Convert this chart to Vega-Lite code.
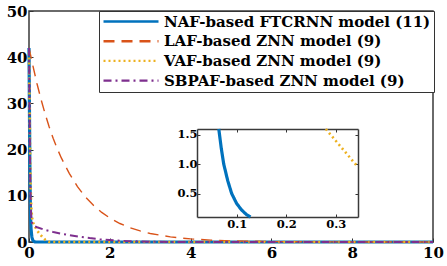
{
  "$schema": "https://vega.github.io/schema/vega-lite/v6.json",
  "width": 404,
  "height": 231,
  "autosize": {"type": "none"},
  "padding": {"left": 29, "top": 11, "right": 14, "bottom": 24},
  "background": "white",
  "config": {
    "view": {"stroke": "#3a3a3a", "strokeWidth": 1.5},
    "font": "DejaVu Serif",
    "legend": {
      "orient": "none", "title": null,
      "symbolType": "M-5.5,0H5.5", "symbolSize": 100, "symbolOffset": 21.5, "symbolStrokeWidth": 2.4,
      "padding": 3, "rowPadding": 3.7, "labelOffset": 25.5, "labelLimit": 0,
      "labelFont": "DejaVu Serif", "labelFontWeight": "bold", "labelFontSize": 15,
      "labelColor": "black", "strokeColor": "#333", "fillColor": "white"
    }
  },
  "datasets": {
    "curves": [
      {"model": "NAF-based FTCRNN model (11)", "t": 0, "e": 42},
      {"model": "NAF-based FTCRNN model (11)", "t": 0.005, "e": 36},
      {"model": "NAF-based FTCRNN model (11)", "t": 0.01, "e": 30},
      {"model": "NAF-based FTCRNN model (11)", "t": 0.015, "e": 24},
      {"model": "NAF-based FTCRNN model (11)", "t": 0.02, "e": 18},
      {"model": "NAF-based FTCRNN model (11)", "t": 0.03, "e": 10},
      {"model": "NAF-based FTCRNN model (11)", "t": 0.04, "e": 5.2},
      {"model": "NAF-based FTCRNN model (11)", "t": 0.05, "e": 2.9},
      {"model": "NAF-based FTCRNN model (11)", "t": 0.064, "e": 1.6},
      {"model": "NAF-based FTCRNN model (11)", "t": 0.069, "e": 1.27},
      {"model": "NAF-based FTCRNN model (11)", "t": 0.074, "e": 1.0},
      {"model": "NAF-based FTCRNN model (11)", "t": 0.082, "e": 0.72},
      {"model": "NAF-based FTCRNN model (11)", "t": 0.09, "e": 0.5},
      {"model": "NAF-based FTCRNN model (11)", "t": 0.1, "e": 0.33},
      {"model": "NAF-based FTCRNN model (11)", "t": 0.11, "e": 0.22},
      {"model": "NAF-based FTCRNN model (11)", "t": 0.12, "e": 0.14},
      {"model": "NAF-based FTCRNN model (11)", "t": 0.128, "e": 0.1},
      {"model": "NAF-based FTCRNN model (11)", "t": 0.14, "e": 0.04},
      {"model": "NAF-based FTCRNN model (11)", "t": 0.16, "e": 0},
      {"model": "NAF-based FTCRNN model (11)", "t": 10, "e": 0},
      {"model": "LAF-based ZNN model (9)", "t": 0, "e": 42},
      {"model": "LAF-based ZNN model (9)", "t": 0.1, "e": 38},
      {"model": "LAF-based ZNN model (9)", "t": 0.2, "e": 34.2},
      {"model": "LAF-based ZNN model (9)", "t": 0.3, "e": 30.8},
      {"model": "LAF-based ZNN model (9)", "t": 0.4, "e": 27.7},
      {"model": "LAF-based ZNN model (9)", "t": 0.5, "e": 24.9},
      {"model": "LAF-based ZNN model (9)", "t": 0.6, "e": 22.4},
      {"model": "LAF-based ZNN model (9)", "t": 0.7, "e": 20.2},
      {"model": "LAF-based ZNN model (9)", "t": 0.8, "e": 18.2},
      {"model": "LAF-based ZNN model (9)", "t": 1, "e": 14.8},
      {"model": "LAF-based ZNN model (9)", "t": 1.2, "e": 12},
      {"model": "LAF-based ZNN model (9)", "t": 1.4, "e": 9.7},
      {"model": "LAF-based ZNN model (9)", "t": 1.6, "e": 7.9},
      {"model": "LAF-based ZNN model (9)", "t": 1.8, "e": 6.4},
      {"model": "LAF-based ZNN model (9)", "t": 2, "e": 5.2},
      {"model": "LAF-based ZNN model (9)", "t": 2.25, "e": 4},
      {"model": "LAF-based ZNN model (9)", "t": 2.5, "e": 3.1},
      {"model": "LAF-based ZNN model (9)", "t": 2.75, "e": 2.4},
      {"model": "LAF-based ZNN model (9)", "t": 3, "e": 1.85},
      {"model": "LAF-based ZNN model (9)", "t": 3.5, "e": 1.1},
      {"model": "LAF-based ZNN model (9)", "t": 4, "e": 0.67},
      {"model": "LAF-based ZNN model (9)", "t": 4.5, "e": 0.4},
      {"model": "LAF-based ZNN model (9)", "t": 5, "e": 0.24},
      {"model": "LAF-based ZNN model (9)", "t": 6, "e": 0.09},
      {"model": "LAF-based ZNN model (9)", "t": 7, "e": 0.03},
      {"model": "LAF-based ZNN model (9)", "t": 8, "e": 0.01},
      {"model": "LAF-based ZNN model (9)", "t": 10, "e": 0},
      {"model": "VAF-based ZNN model (9)", "t": 0, "e": 41},
      {"model": "VAF-based ZNN model (9)", "t": 0.01, "e": 33},
      {"model": "VAF-based ZNN model (9)", "t": 0.02, "e": 25},
      {"model": "VAF-based ZNN model (9)", "t": 0.03, "e": 18},
      {"model": "VAF-based ZNN model (9)", "t": 0.04, "e": 12},
      {"model": "VAF-based ZNN model (9)", "t": 0.05, "e": 9},
      {"model": "VAF-based ZNN model (9)", "t": 0.06, "e": 7},
      {"model": "VAF-based ZNN model (9)", "t": 0.08, "e": 5},
      {"model": "VAF-based ZNN model (9)", "t": 0.1, "e": 4.2},
      {"model": "VAF-based ZNN model (9)", "t": 0.15, "e": 3.3},
      {"model": "VAF-based ZNN model (9)", "t": 0.2, "e": 2.5},
      {"model": "VAF-based ZNN model (9)", "t": 0.25, "e": 1.9},
      {"model": "VAF-based ZNN model (9)", "t": 0.28, "e": 1.6},
      {"model": "VAF-based ZNN model (9)", "t": 0.3, "e": 1.4},
      {"model": "VAF-based ZNN model (9)", "t": 0.345, "e": 0.95},
      {"model": "VAF-based ZNN model (9)", "t": 0.4, "e": 0.5},
      {"model": "VAF-based ZNN model (9)", "t": 0.45, "e": 0.18},
      {"model": "VAF-based ZNN model (9)", "t": 0.5, "e": 0.02},
      {"model": "VAF-based ZNN model (9)", "t": 0.55, "e": 0},
      {"model": "VAF-based ZNN model (9)", "t": 10, "e": 0},
      {"model": "SBPAF-based ZNN model (9)", "t": 0, "e": 42},
      {"model": "SBPAF-based ZNN model (9)", "t": 0.01, "e": 32},
      {"model": "SBPAF-based ZNN model (9)", "t": 0.02, "e": 22},
      {"model": "SBPAF-based ZNN model (9)", "t": 0.03, "e": 14},
      {"model": "SBPAF-based ZNN model (9)", "t": 0.04, "e": 9},
      {"model": "SBPAF-based ZNN model (9)", "t": 0.05, "e": 6.5},
      {"model": "SBPAF-based ZNN model (9)", "t": 0.06, "e": 5},
      {"model": "SBPAF-based ZNN model (9)", "t": 0.08, "e": 4},
      {"model": "SBPAF-based ZNN model (9)", "t": 0.1, "e": 3.6},
      {"model": "SBPAF-based ZNN model (9)", "t": 0.2, "e": 3.2},
      {"model": "SBPAF-based ZNN model (9)", "t": 0.4, "e": 2.6},
      {"model": "SBPAF-based ZNN model (9)", "t": 0.6, "e": 2.15},
      {"model": "SBPAF-based ZNN model (9)", "t": 0.8, "e": 1.8},
      {"model": "SBPAF-based ZNN model (9)", "t": 1, "e": 1.5},
      {"model": "SBPAF-based ZNN model (9)", "t": 1.25, "e": 1.15},
      {"model": "SBPAF-based ZNN model (9)", "t": 1.5, "e": 0.85},
      {"model": "SBPAF-based ZNN model (9)", "t": 1.75, "e": 0.6},
      {"model": "SBPAF-based ZNN model (9)", "t": 2, "e": 0.42},
      {"model": "SBPAF-based ZNN model (9)", "t": 2.25, "e": 0.28},
      {"model": "SBPAF-based ZNN model (9)", "t": 2.5, "e": 0.18},
      {"model": "SBPAF-based ZNN model (9)", "t": 3, "e": 0.07},
      {"model": "SBPAF-based ZNN model (9)", "t": 3.5, "e": 0.02},
      {"model": "SBPAF-based ZNN model (9)", "t": 4, "e": 0},
      {"model": "SBPAF-based ZNN model (9)", "t": 10, "e": 0}
    ]
  },
  "layer": [
    {
      "data": {"name": "curves"},
      "mark": {"type": "line", "clip": false},
      "encoding": {
        "x": {
          "field": "t", "type": "quantitative",
          "scale": {"domain": [0, 10], "nice": false, "zero": false},
          "axis": {
            "orient": "bottom", "values": [0, 2, 4, 6, 8, 10], "title": null, "grid": false,
            "domain": false, "ticks": true, "tickSize": -4, "tickColor": "#333",
            "labelFont": "DejaVu Serif", "labelFontWeight": "bold", "labelFontSize": 15,
            "labelColor": "black", "labelPadding": 7, "labelFlush": false, "labelOverlap": false
          }
        },
        "y": {
          "field": "e", "type": "quantitative",
          "scale": {"domain": [0, 50], "nice": false, "zero": false},
          "axis": {
            "orient": "left", "values": [0, 10, 20, 30, 40, 50], "title": null, "grid": false,
            "domain": false, "ticks": true, "tickSize": -4, "tickColor": "#333",
            "labelFont": "DejaVu Serif", "labelFontWeight": "bold", "labelFontSize": 15,
            "labelColor": "black", "labelPadding": 6, "labelFlush": false, "labelOverlap": false
          }
        },
        "color": {
          "field": "model", "type": "nominal",
          "scale": {
            "domain": ["NAF-based FTCRNN model (11)", "LAF-based ZNN model (9)", "VAF-based ZNN model (9)", "SBPAF-based ZNN model (9)"],
            "range": ["#0072BD", "#D95319", "#EDB120", "#7E2F8E"]
          },
          "legend": {"legendX": 70, "legendY": 0}
        },
        "strokeDash": {
          "field": "model", "type": "nominal",
          "scale": {
            "domain": ["NAF-based FTCRNN model (11)", "LAF-based ZNN model (9)", "VAF-based ZNN model (9)", "SBPAF-based ZNN model (9)"],
            "range": [[1, 0], [11, 7], [2, 3], [8, 4, 2, 4]]
          },
          "legend": {"legendX": 70, "legendY": 0}
        },
        "strokeWidth": {
          "field": "model", "type": "nominal",
          "scale": {
            "domain": ["LAF-based ZNN model (9)", "SBPAF-based ZNN model (9)", "VAF-based ZNN model (9)", "NAF-based FTCRNN model (11)"],
            "range": [1.4, 3.2],
            "padding": 0
          },
          "legend": null
        }
      }
    },
    {
      "data": {"name": "curves"},
      "transform": [{"filter": "datum.t >= 0.02 && datum.t <= 0.3451 && datum.e <= 1.6001 && datum.e >= 0.0999"}],
      "mark": {"type": "line"},
      "encoding": {
        "x": {
          "field": "t", "type": "quantitative",
          "scale": {"domain": [0.02, 0.345], "range": [168, 329], "nice": false, "zero": false},
          "axis": {
            "orient": "bottom", "offset": -25, "values": [0.1, 0.2, 0.3], "title": null, "grid": false,
            "domain": true, "domainColor": "#3a3a3a", "domainWidth": 1.5,
            "ticks": true, "tickSize": -3, "tickColor": "#333",
            "labelFont": "DejaVu Serif", "labelFontWeight": "bold", "labelFontSize": 11.5,
            "labelColor": "black", "labelPadding": 4, "labelFlush": false, "labelOverlap": false
          }
        },
        "y": {
          "field": "e", "type": "quantitative",
          "scale": {"domain": [0.1, 1.6], "range": [206, 118], "nice": false, "zero": false},
          "axis": {
            "orient": "left", "offset": -168, "values": [0.5, 1, 1.5], "title": null, "grid": false,
            "domain": true, "domainColor": "#3a3a3a", "domainWidth": 1.5,
            "ticks": true, "tickSize": -3, "tickColor": "#333",
            "labelFont": "DejaVu Serif", "labelFontWeight": "bold", "labelFontSize": 11.5,
            "labelColor": "black", "labelPadding": 3, "labelFlush": false, "labelOverlap": false
          }
        },
        "color": {"field": "model", "type": "nominal"},
        "strokeDash": {"field": "model", "type": "nominal"},
        "strokeWidth": {"field": "model", "type": "nominal", "legend": null}
      }
    },
    {
      "data": {"name": "curves"},
      "transform": [{"filter": "datum.t >= 0.02 && datum.t <= 0.3451 && datum.e <= 1.6001 && datum.e >= 0.0999"}],
      "mark": {"type": "line", "opacity": 0},
      "encoding": {
        "x": {
          "field": "t", "type": "quantitative",
          "scale": {"domain": [0.02, 0.345], "range": [168, 329], "nice": false, "zero": false},
          "axis": {
            "orient": "top", "offset": -118, "values": [0.1, 0.2, 0.3], "title": null, "grid": false,
            "domain": true, "domainColor": "#3a3a3a", "domainWidth": 1.5,
            "ticks": true, "tickSize": -3, "tickColor": "#333", "labels": false
          }
        },
        "y": {
          "field": "e", "type": "quantitative",
          "scale": {"domain": [0.1, 1.6], "range": [206, 118], "nice": false, "zero": false},
          "axis": {
            "orient": "right", "offset": -75, "values": [0.5, 1, 1.5], "title": null, "grid": false,
            "domain": true, "domainColor": "#3a3a3a", "domainWidth": 1.5,
            "ticks": true, "tickSize": -3, "tickColor": "#333", "labels": false
          }
        }
      }
    }
  ],
  "resolve": {
    "scale": {"x": "independent", "y": "independent"},
    "axis": {"x": "independent", "y": "independent"}
  }
}
